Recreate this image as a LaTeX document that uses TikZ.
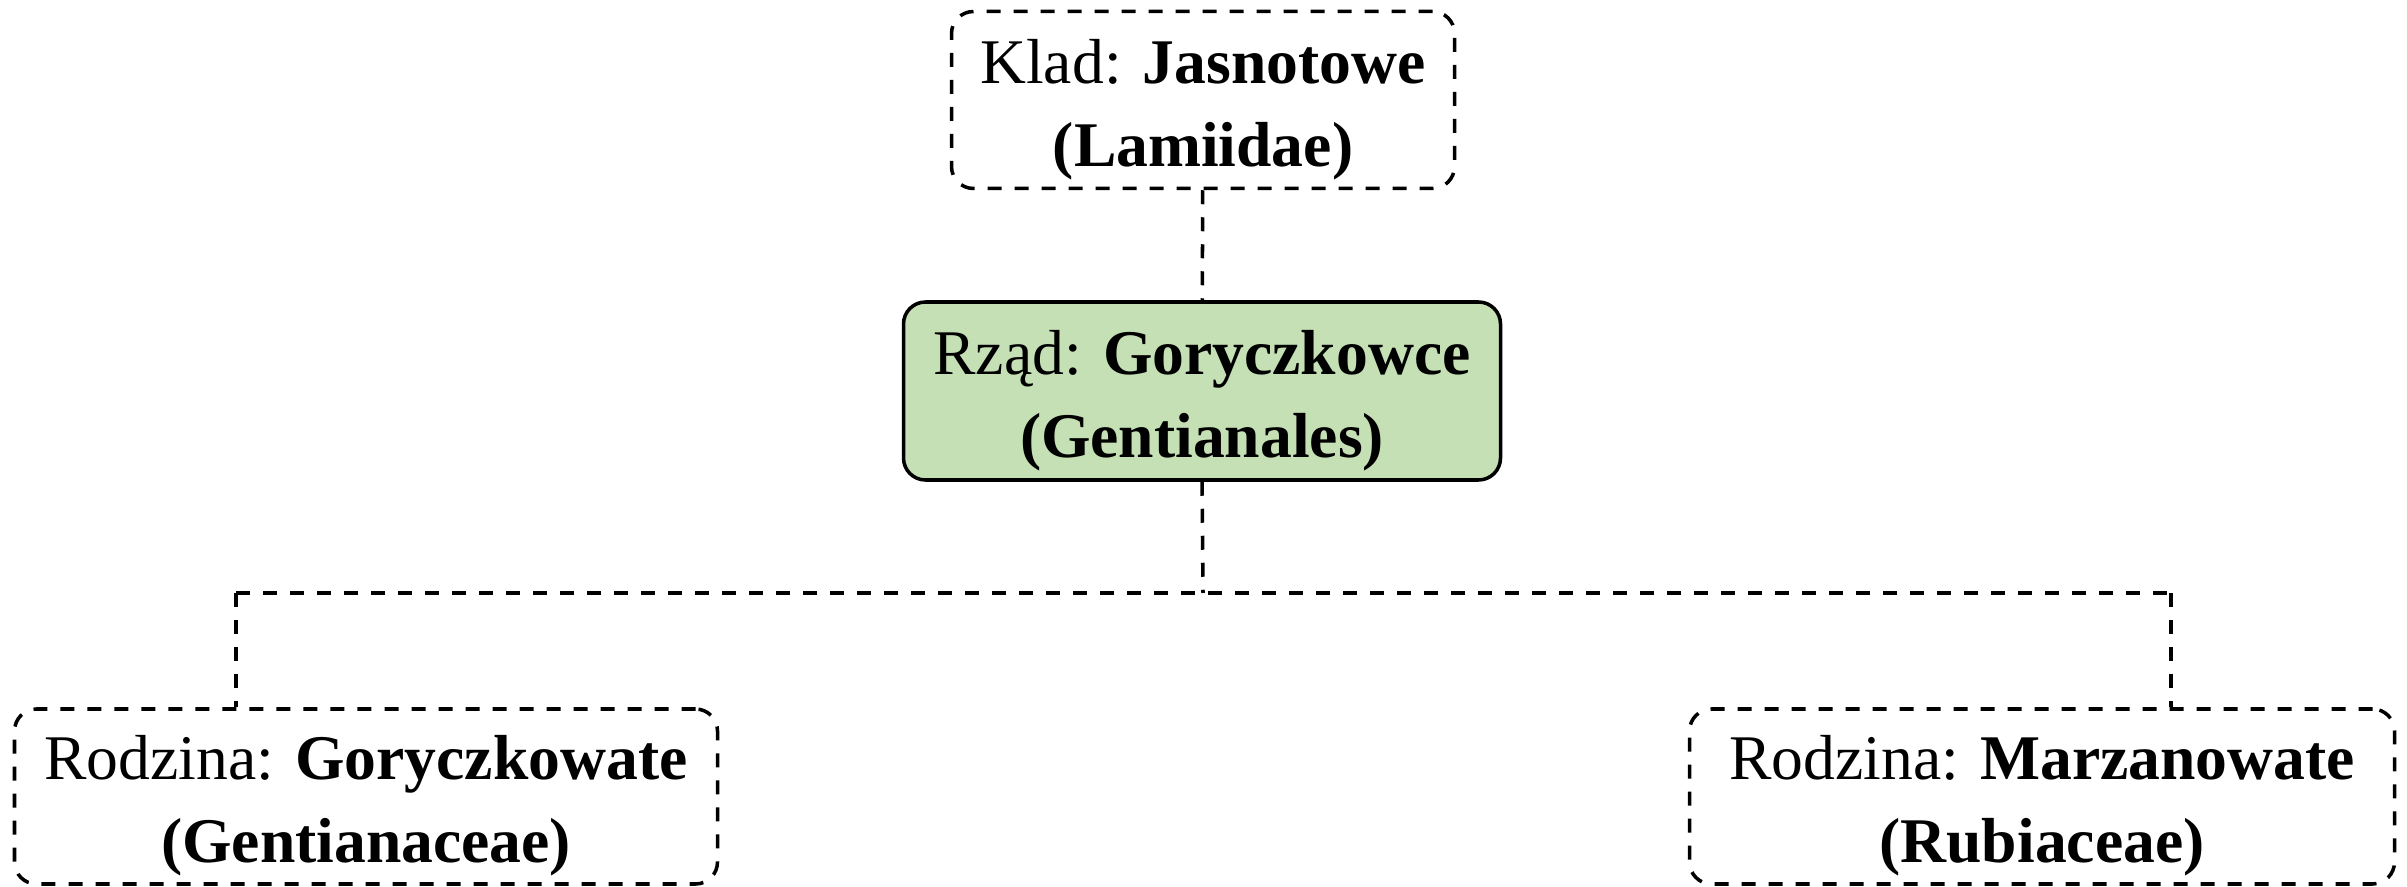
\documentclass[tikz,border=0pt]{standalone}
\usepackage{fontspec}
\setmainfont{Liberation Serif}
\usetikzlibrary{calc,shapes}
\definecolor{zielen}{HTML}{C5E0B4}
\newcommand{\podpora}{\rule{0pt}{18pt}}
\tikzset{
  ramka/.style={draw,rounded corners=0.22cm,line width=1pt,align=center,
    inner sep=0pt,font=\fontsize{18.1}{23.6}\selectfont},
  kreski/.style={line width=1pt,dash pattern=on 0.14cm off 0.13cm},
}
\begin{document}
\begin{tikzpicture}
\useasboundingbox (0,0) rectangle (24.07,8.86);
% Cadres
\node (klad) at (12.03,7.86) [ramka,kreski,minimum width=5.03cm,minimum height=1.77cm]
  {\podpora Klad: \textbf{Jasnotowe}\\\textbf{(Lamiidae)}};
\node (rzad) at (12.02,4.95) [ramka,fill=zielen,minimum width=5.97cm,minimum height=1.78cm]
  {\podpora Rząd: \textbf{Goryczkowce}\\\textbf{(Gentianales)}};
\node (gorycz) at (3.66,0.895) [ramka,kreski,minimum width=7.03cm,minimum height=1.75cm]
  {\podpora Rodzina: \textbf{Goryczkowate}\\\textbf{(Gentianaceae)}};
\node (marzan) at (20.42,0.895) [ramka,kreski,minimum width=7.05cm,minimum height=1.75cm]
  {\podpora Rodzina: \textbf{Marzanowate}\\\textbf{(Rubiaceae)}};
% Liens
\coordinate (fork) at (12.03,2.93);
\coordinate (jl) at (2.36,2.93);
\coordinate (jr) at (21.71,2.93);
\draw [kreski] (klad) -- (rzad);
\draw [kreski] (rzad.south) -- (fork);
\draw [kreski] (jl) -- (jr);
\draw [kreski] (jl) -- (jl |- gorycz.north);
\draw [kreski] (jr) -- (jr |- marzan.north);
\end{tikzpicture}
\end{document}
